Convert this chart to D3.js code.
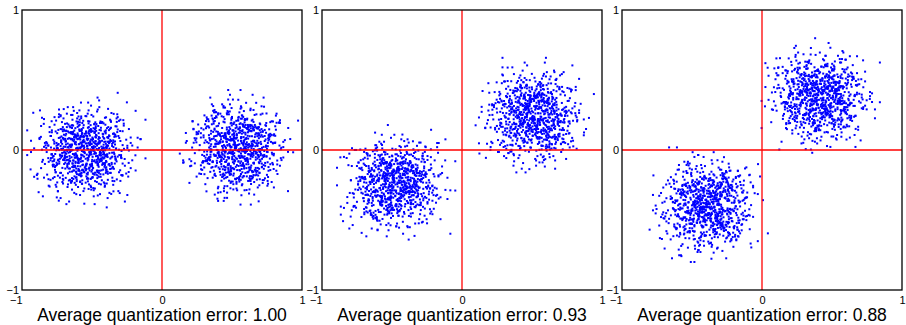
<!DOCTYPE html>
<html>
<head>
<meta charset="utf-8">
<script src="https://cdn.jsdelivr.net/npm/d3@7"></script>
<style>
body { margin: 0; background: #fff; }
svg { display: block; font-family: "Liberation Sans", Arial, Helvetica, sans-serif; }
</style>
</head>
<body>
<div id="chart"></div>
<script>
// one panel per quantizer, labelled with its average error
var errorLabels = ['1.00', '0.93', '0.88'];
var tickValues = [-1, 0, 1];

// cluster centres [x, y], two clusters per panel
var clusterCenters = [
    [[-0.55, -0.01], [0.54, 0.01]],
    [[-0.48, -0.24], [0.51, 0.24]],
    [[-0.39, -0.40], [0.41, 0.38]]
];
// spread of every cluster [sx, sy]
var clusterSpread = [
    [[0.16, 0.155], [0.16, 0.155]],
    [[0.16, 0.155], [0.16, 0.155]],
    [[0.16, 0.155], [0.16, 0.155]]
];

// sample table in standard units, shared by all clusters
var offsets = [
[.34,-1.21],[-.87,.45],[1.52,.08],[-.12,-.63],[.71,1.34],[-1.45,-.29],[.05,.92],[-.58,-1.76],[2.11,-.41],[-.33,.17],
[.96,-.84],[-1.09,1.03],[.27,.55],[-.74,-.06],[1.18,1.77],[-2.03,.62],[.49,-.22],[-.21,-1.38],[.83,.31],[-1.31,-.95],
[.14,2.25],[-.46,.79],[1.67,-1.12],[-.92,.03],[.58,-.57],[-.08,1.41],[1.03,.66],[-1.62,-.48],[.39,-2.07],[-.65,.28],
[.21,-.11],[-1.17,1.58],[1.36,-.37],[-.29,-.81],[.76,.12],[-.51,-.42],[2.48,.57],[-.04,.69],[.62,-1.49],[-1.83,.21],
[.93,.97],[-.38,-.16],[.17,1.12],[-.99,-1.27],[1.24,-.72],[-.16,.38],[.45,-.98],[-1.24,.84],[.68,.44],[-.71,-2.31],
[1.89,.26],[-.25,1.89],[.31,-.47],[-1.48,-.13],[1.09,-1.91],[-.55,.51],[.02,-.69],[-.89,1.27],[1.44,.89],[-.36,-1.05],
[.79,-.27],[-1.96,-.77],[.11,.24],[-.62,1.68],[1.29,-.05],[-.19,-.33],[.52,.73],[-1.37,.36],[.88,-1.63],[-.79,-.58],
[1.73,1.19],[-.07,-1.83],[.24,.99],[-1.12,-.34],[.63,.16],[-.43,1.07],[2.26,-.88],[-.97,.59],[.36,-.76],[-.14,.02],
[1.12,1.46],[-1.69,-1.07],[.47,.36],[-.31,-.53],[.97,-.19],[-.83,.95],[.09,-1.26],[-1.26,-.63],[1.58,.48],[-.53,2.04],
[.72,-.38],[-.02,.46],[1.31,-1.37],[-2.27,.14],[.19,.81],[-.68,-.94],[.86,.59],[-.41,-.09],[1.05,-.61],[-1.03,1.35],
[.56,-1.11],[-.23,.63],[1.61,-.24],[-.76,-1.52],[.28,.07],[-1.54,.71],[.91,1.23],[-.11,-.45],[.44,-1.71],[-.95,.22],
[1.21,.35],[-.35,1.52],[.66,-.89],[-1.41,-.21],[.13,-.31],[-.59,.88],[1.95,-.53],[-.18,-1.15],[.81,.19],[-1.21,-1.84],
[.37,1.61],[-.72,.09],[1.15,-.99],[-.06,.54],[.54,.27],[-1.88,-.39],[.99,-.14],[-.44,-.71],[1.46,1.01],[-.27,.33],
[.07,-.58],[-1.06,.48],[.75,-1.33],[-.57,1.21],[1.38,.11],[-.13,-.87],[.33,.64],[-2.58,-.17],[.94,-.44],[-.81,1.74],
[.26,-.03],[-1.34,-.85],[1.07,.74],[-.39,-1.97],[.61,.42],[-.04,-.24],[1.78,-.66],[-.66,.31],[.16,1.29],[-1.15,-.56],
[.85,-.08],[-.48,.67],[1.26,-1.54],[-.21,.15],[.42,.86],[-1.58,1.12],[.69,-.35],[-.86,-1.22],[2.04,.39],[-.1,-.19],
[.29,-.93],[-.94,.77],[1.13,.53],[-.32,-.37],[.57,1.93],[-1.28,.05],[.82,-1.06],[-.6,-.27],[1.49,.71],[-.15,1.03],
[.03,-1.44],[-1.73,.43],[.98,.26],[-.52,-.66],[.35,.13],[-1.01,-1.41],[1.63,-.31],[-.24,.94],[.51,-.52],[-.77,.58],
[1.19,-.79],[-.47,-.14],[.23,.47],[-2.12,-1.03],[.89,1.55],[-.09,-.61],[.64,-.17],[-1.19,.99],[1.34,.32],[-.37,-1.29],
[.1,.71],[-.84,-.41],[1.01,-2.15],[-.64,.19],[.48,1.08],[-1.43,-.69],[.77,-.62],[-.2,.41],[2.35,.18],[-.9,-.18],
[.18,-.79],[-.56,1.46],[1.09,.41],[-1.36,-1.18],[.4,.04],[-.03,-.96],[.73,1.31],[-1.02,-.07],[1.41,-.46],[-.3,.73],
[.55,-1.23],[-1.64,.27],[.92,.83],[-.42,-.48],[.06,1.62],[-.78,-1.64],[1.27,.2],[-.17,-.28],[.6,.57],[-1.11,.64],
[1.84,-1.02],[-.61,.04],[.32,-.67],[-1.49,1.39],[.87,-.29],[-.26,-1.09],[.5,.95],[-.93,-.32],[1.16,1.09],[-.12,.26],
[.25,-1.58],[-1.22,.16],[.74,.06],[-.49,-.88],[1.53,.62],[-.69,1.16],[.12,-.42],[-2.41,.49],[.95,-.73],[-.34,.56],
[.67,-.02],[-1.07,-.99],[1.22,-1.21],[-.45,.35],[.2,1.38],[-.8,-.25],[1.68,.93],[-.01,-.74],[.46,.21],[-1.31,.92],
[.84,-1.43],[-.54,-.12],[1.04,.61],[-.22,-2.01],[.3,.34],[-1.79,-.58],[.71,.97],[-.4,.13],[1.33,-.56],[-.88,-.79],
[.15,.58],[-1.16,1.71],[.9,-.21],[-.28,-.54],[.59,1.17],[-1.52,-.31],[1.96,.04],[-.63,.83],[.38,-1.03],[-.05,.11],
[1.11,.45],[-.98,-1.48],[.53,-.39],[-.33,1.28],[1.57,-.87],[-1.27,.39],[.08,-.15],[-.73,-.39],[.8,.68],[-.5,1.87],
[1.02,-1.31],[-1.92,.08],[.22,.29],[-.15,-.99],[.65,.37],[-.85,.47],[1.42,1.36],[-.38,-.23],[.43,-2.43],[-1.09,.25],
[.97,.15],[-.58,-1.36],[.27,.9],[-1.39,-.44],[1.25,.81],[-.2,.67],[.7,-1.17],[-.67,-.03],[2.7,-.32],[-.11,.44]
];
// how each cluster pairs the table: [shift of the y column, swap columns]
var pairings = [
    [[0, 0], [97, 1], [203, 0]],
    [[41, 1], [150, 0], [263, 1]],
    [[13, 0], [122, 1], [229, 0]],
    [[59, 1], [171, 0], [281, 1]],
    [[7, 1], [88, 0], [190, 1]],
    [[33, 0], [139, 1], [247, 0]]
];

var margin = {top: 10, left: 22},
    size = 280,
    gap = 20;

var svg = d3.select('#chart')
    .append('svg')
    .attr('width', 906)
    .attr('height', 325);

var x = d3.scaleLinear().domain([-1, 1]).range([0, size]);
var y = d3.scaleLinear().domain([-1, 1]).range([size, 0]);

svg.append('defs').append('clipPath')
    .attr('id', 'box')
    .append('rect')
    .attr('width', size)
    .attr('height', size);

function clusterPoints(center, spread, pairing) {
    var n = offsets.length, pts = [];
    pairing.forEach(function(p) {
        for (var i = 0; i < n; i++) {
            var a = offsets[i], b = offsets[(i + p[0]) % n];
            var dx = p[1] ? a[1] : a[0];
            var dy = p[1] ? b[0] : b[1];
            pts.push([center[0] + spread[0] * dx, center[1] + spread[1] * dy]);
        }
    });
    return pts;
}

errorLabels.forEach(function(label, p) {
    var g = svg.append('g')
        .attr('transform', 'translate(' + (margin.left + p * (size + gap)) + ',' + margin.top + ')');

    // Dots
    var points = [];
    clusterCenters[p].forEach(function(c, k) {
        points = points.concat(clusterPoints(c, clusterSpread[p][k], pairings[p * 2 + k]));
    });
    g.append('g')
        .attr('clip-path', 'url(#box)')
        .selectAll('.dot')
        .data(points)
        .enter().append('rect')
        .attr('class', 'dot')
        .attr('x', d => x(d[0]) - 1)
        .attr('y', d => y(d[1]) - 1)
        .attr('width', 2)
        .attr('height', 2)
        .attr('fill', '#0000ff');

    // red zero lines
    g.append('line')
        .attr('x1', x(0)).attr('x2', x(0))
        .attr('y1', 0).attr('y2', size)
        .attr('stroke', '#ff0000')
        .attr('stroke-width', 1.3);
    g.append('line')
        .attr('x1', 0).attr('x2', size)
        .attr('y1', y(0)).attr('y2', y(0))
        .attr('stroke', '#ff0000')
        .attr('stroke-width', 1.3);

    // frame
    g.append('rect')
        .attr('width', size)
        .attr('height', size)
        .attr('fill', 'none')
        .attr('stroke', '#000')
        .attr('stroke-width', 1.3);

    // axes, labels only
    var xAxis = g.append('g')
        .attr('transform', 'translate(0,' + size + ')')
        .call(d3.axisBottom(x).tickValues(tickValues).tickSize(0).tickPadding(6).tickFormat(d3.format('d')));
    var yAxis = g.append('g')
        .call(d3.axisLeft(y).tickValues(tickValues).tickSize(0).tickPadding(3).tickFormat(d3.format('d')));
    [xAxis, yAxis].forEach(function(a) {
        a.attr('font-family', null).attr('font-size', 11);
        a.select('.domain').remove();
        a.selectAll('text').attr('fill', '#000');
    });
    xAxis.selectAll('text')
        .filter(d => d < 0)
        .attr('text-anchor', 'end')
        .attr('x', 0);

    g.append('text')
        .attr('x', size / 2)
        .attr('y', 311)
        .attr('text-anchor', 'middle')
        .attr('font-size', 17.5)
        .attr('fill', '#000')
        .text('Average quantization error: ' + label);
});
</script>
</body>
</html>
